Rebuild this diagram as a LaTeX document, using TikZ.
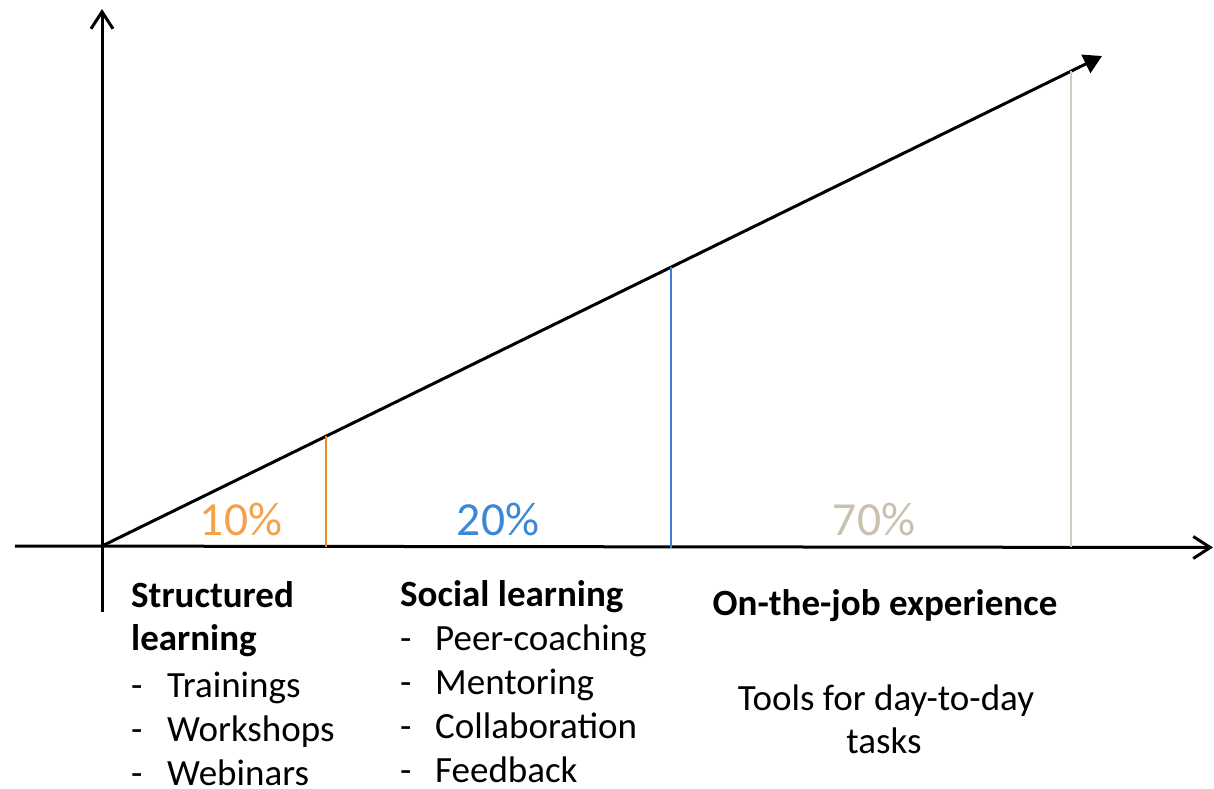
\documentclass[tikz,border=0pt]{standalone}
\usepackage{fontspec}
\setmainfont{Carlito}
\usetikzlibrary{arrows.meta}
\definecolor{orln}{HTML}{EE8A2A}
\definecolor{ortx}{HTML}{F3A24A}
\definecolor{blln}{HTML}{3A80D8}
\definecolor{bltx}{HTML}{3C87D6}
\definecolor{bgln}{HTML}{D4CCBE}
\definecolor{bgtx}{HTML}{C9C0AE}
\begin{document}
\begin{tikzpicture}[x=1pt,y=-1pt,
  axis/.style={line width=3pt,-{Straight Barb[length=17pt,width=22pt,line width=3pt]}},
  diag/.style={line width=3pt,-{Triangle[length=18pt,width=20pt]}},
  tick/.style={line width=2.3pt},
  pct/.style={font=\fontsize{47.5}{56}\selectfont,anchor=base,inner sep=0pt},
  lbl/.style={font=\fontsize{37}{44}\selectfont,anchor=base west,inner sep=0pt},
  hd/.style={font=\fontsize{37}{44}\selectfont\bfseries,anchor=base west,inner sep=0pt},
  ctr/.style={font=\fontsize{37}{44}\selectfont,anchor=base,inner sep=0pt}]
\useasboundingbox (0,0) rectangle (1214,788);
% axes
\coordinate (O) at (102,546);
\coordinate (ybot) at (102,612);
\coordinate (ytop) at (102,9);
\coordinate (xl) at (15,546);
\coordinate (xr) at (1213,547.5);
\coordinate (dtip) at (1102,56);
\draw[axis] (ybot) -- (ytop);
\draw[axis] (xl) -- (xr);
\draw[diag] (O) -- (dtip);
% vertical separators
\coordinate (a1) at (326,546.5);
\coordinate (a2) at (326,436);
\coordinate (b1) at (671,547.5);
\coordinate (b2) at (671,267);
\coordinate (c1) at (1071,546.5);
\coordinate (c2) at (1071,71);
\draw[tick,orln] (a1) -- (a2);
\draw[tick,blln] (b1) -- (b2);
\draw[tick,bgln] (c1) -- (c2);
% percentages
\node[pct,text=ortx] (p10) at (241,535) {10\%};
\node[pct,text=bltx] (p20) at (498,535) {20\%};
\node[pct,text=bgtx] (p70) at (874,535) {70\%};
% structured learning
\node[hd] (s1) at (131,607) {Structured};
\node[hd] (s2) at (131,650) {learning};
\node[lbl] (sd1) at (131,697) {-};
\node[lbl] (st1) at (167,697) {Trainings};
\node[lbl] (sd2) at (131,741) {-};
\node[lbl] (st2) at (167,741) {Workshops};
\node[lbl] (sd3) at (131,785) {-};
\node[lbl] (st3) at (167,785) {Webinars};
% social learning
\node[hd] (so) at (400,606) {Social learning};
\node[lbl] (od1) at (400,650) {-};
\node[lbl] (ot1) at (435,650) {Peer-coaching};
\node[lbl] (od2) at (400,694) {-};
\node[lbl] (ot2) at (435,694) {Mentoring};
\node[lbl] (od3) at (400,738) {-};
\node[lbl] (ot3) at (435,738) {Collaboration};
\node[lbl] (od4) at (400,782) {-};
\node[lbl] (ot4) at (435,782) {Feedback};
% on-the-job
\node[ctr,font=\fontsize{37}{44}\selectfont\bfseries] (oj) at (885,615) {On-the-job experience};
\node[ctr] (tl1) at (886,710) {Tools for day-to-day};
\node[ctr] (tl2) at (884,753) {tasks};
\end{tikzpicture}
\end{document}
